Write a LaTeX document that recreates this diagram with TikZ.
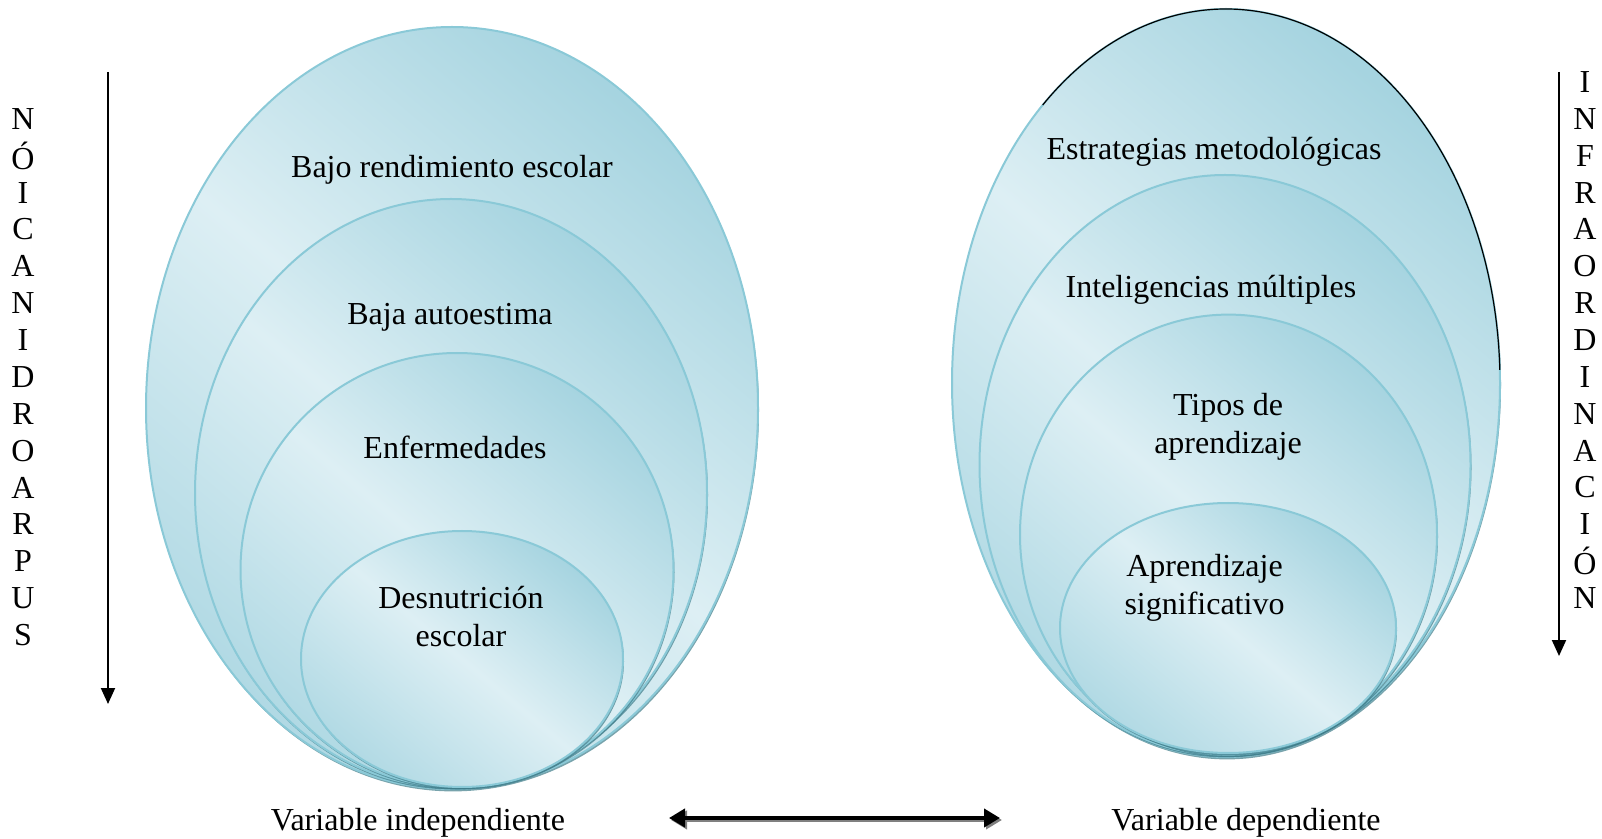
\documentclass[tikz,border=0pt]{standalone}
\usepackage{fontspec}
\setmainfont{Liberation Serif}
\usetikzlibrary{shapes.geometric, arrows.meta, shadows}

\definecolor{ringlight}{HTML}{DDEFF4}
\definecolor{ringdark}{HTML}{A6D4E0}
\definecolor{ringline}{HTML}{8AC9D7}
\definecolor{ringshade}{HTML}{3E7C89}

\tikzset{
  ring/.style={ellipse, draw=ringline, line width=1pt, inner sep=0pt, outer sep=0pt,
    top color=ringdark, bottom color=ringdark!80!ringlight, middle color=ringlight, shading angle=-40,
    drop shadow={shadow xshift=0.5pt, shadow yshift=-1.2pt, fill=ringshade, opacity=0.7}},
  ringtext/.style={align=center, font=\fontsize{16}{19}\selectfont},
  letter/.style={font=\fontsize{16}{19}\selectfont},
  vert/.style={line width=1pt, -{Triangle[length=8pt,width=7pt]}},
  twoway/.style={line width=2.2pt, {Triangle[length=8pt,width=9pt]}-{Triangle[length=8pt,width=9pt]}}
}

\begin{document}
\begin{tikzpicture}[x=0.5pt, y=-0.5pt]
    \useasboundingbox (0,0) rectangle (1602,839);
    % left rings
    \node[ring, minimum width=306pt, minimum height=381pt] (l1) at (452,408) {};
    \node[ring, minimum width=256pt, minimum height=294pt] (l2) at (451,493) {};
    \node[ring, minimum width=216.5pt, minimum height=217pt] (l3) at (457,570) {};
    \node[ring, minimum width=161pt, minimum height=128pt] (l4) at (462,659) {};
    % right rings
    \node[ring, minimum width=274pt, minimum height=374pt] (r1) at (1226,383) {};
    \draw[line width=0.6pt] (r1.center) ++(228:274 and 374) arc[start angle=228, end angle=358, x radius=274, y radius=374];
    \node[ring, minimum width=245.5pt, minimum height=290pt] (r2) at (1225,465) {};
    \node[ring, minimum width=208.5pt, minimum height=220pt] (r3) at (1228.5,534.6) {};
    \node[ring, minimum width=168pt, minimum height=125pt] (r4) at (1228,628) {};
    % texts
    \node[ringtext] (t1) at (452,170) {Bajo rendimiento escolar};
    \node[ringtext] (t2) at (450,317) {Baja autoestima};
    \node[ringtext] (t3) at (455,447) {Enfermedades};
    \node[ringtext] (t4) at (461,617) {Desnutrición\\escolar};
    \node[ringtext] (t5) at (1214,152) {Estrategias metodológicas};
    \node[ringtext] (t6) at (1211,290) {Inteligencias múltiples};
    \node[ringtext] (t7) at (1228,427) {Tipos de\\aprendizaje};
    \node[ringtext] (t8) at (1204.5,588) {Aprendizaje\\significativo};
    \node[ringtext] (vi) at (418,823) {Variable independiente};
    \node[ringtext] (vd) at (1246,823) {Variable dependiente};
    % side letters
    \foreach \c [count=\i] in {N,Ó,I,C,A,N,I,D,R,O,A,R,P,U,S}
        \node[letter] (sl\i) at (23,{119+36.85*(\i-1)}) {\c};
    \foreach \c [count=\i] in {I,N,F,R,A,O,R,D,I,N,A,C,I,Ó,N}
        \node[letter] (sr\i) at (1585,{82+36.85*(\i-1)}) {\c};
    % arrows
    \coordinate (la0) at (108,72);
    \coordinate (la1) at (108,704);
    \coordinate (ra0) at (1559,72);
    \coordinate (ra1) at (1559,656);
    \coordinate (ma0) at (669,818);
    \coordinate (ma1) at (1000,818);
    \draw[vert] (la0) -- (la1);
    \draw[vert] (ra0) -- (ra1);
    \draw[twoway, draw=gray, fill=gray, transform canvas={xshift=1pt, yshift=-1pt}] (ma0) -- (ma1);
    \draw[twoway] (ma0) -- (ma1);
\end{tikzpicture}
\end{document}
